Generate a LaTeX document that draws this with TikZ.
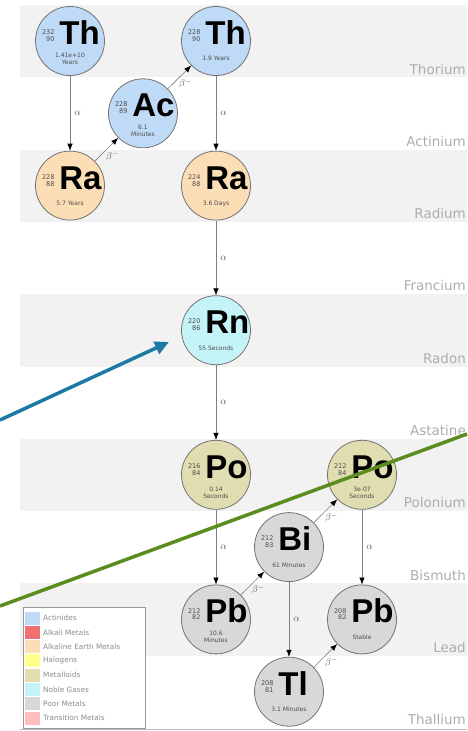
\documentclass[tikz,border=0pt]{standalone}
\usepackage{fontspec}
\setmainfont{DejaVu Sans}
\newfontfamily\elemfont{Liberation Sans}
\usetikzlibrary{positioning,arrows.meta}

\definecolor{actinide}{RGB}{190,218,246}
\definecolor{alkali}{RGB}{240,112,112}
\definecolor{alkearth}{RGB}{252,222,182}
\definecolor{halogen}{RGB}{255,255,140}
\definecolor{metalloid}{RGB}{224,222,176}
\definecolor{noble}{RGB}{196,244,247}
\definecolor{poor}{RGB}{216,216,216}
\definecolor{transition}{RGB}{255,190,190}
\definecolor{annblue}{RGB}{27,122,163}
\definecolor{anngreen}{RGB}{91,140,31}

% mass / atomic number stack, element symbol, half-life
\newcommand{\nucl}[4]{%
  \makebox[0pt][l]{\hspace{-28pt}\raisebox{-3.5pt}[0pt][0pt]{%
    \raisebox{3pt}{\fontsize{6.5}{6.8}\selectfont\color{black!70}\begin{tabular}[b]{@{}r@{}}#1\\#2\end{tabular}}%
    \hspace{5pt}{\elemfont\bfseries\fontsize{33}{33}\selectfont #3}}}%
  \makebox[0pt][c]{\raisebox{-20pt}[0pt][0pt]{\fontsize{6}{7}\selectfont\color{black!70}\begin{tabular}[c]{@{}c@{}}#4\end{tabular}}}}

\begin{document}
\begin{tikzpicture}[x=1pt, y=1pt, node distance=72.3pt and 73pt,
  >={Latex[length=7pt,width=5.5pt,color=black]},
  nuc/.style={circle, draw=black!55, line width=0.8pt, minimum size=69pt, inner sep=0pt, on grid},
  decay/.style={->, draw=black!50, line width=0.6pt},
  declab/.style={font=\fontsize{10}{10}\selectfont, text=black!65, inner sep=1pt},
  rowlabel/.style={anchor=base east, inner sep=0pt, text=black!32, font=\fontsize{13.5}{13.5}\selectfont},
  legtext/.style={anchor=west, inner sep=0pt, text=black!45, font=\fontsize{7.3}{7.3}\selectfont}]
\useasboundingbox (0,0) rectangle (467,-731);

% element rows
\foreach \elname [count=\k from 0] in {Thorium,Actinium,Radium,Francium,Radon,Astatine,Polonium,Bismuth,Lead,Thallium} {
  \ifodd\k\else\fill[black!5] (20,{-5-72.3*\k}) rectangle (467,{-77.3-72.3*\k});\fi
  \node[rowlabel] (row\k) at (466,{-74-72.3*\k}) {\elname};
}
\draw[black!25, line width=0.6pt] (20,-729) -- (467,-729);

% chain
\node[nuc, fill=actinide] (th232) at (70,-41) {\nucl{232}{90}{Th}{1.41e+10\\Years}};
\node[nuc, fill=actinide, below right=of th232] (ac228) {\nucl{228}{89}{Ac}{6.1\\Minutes}};
\node[nuc, fill=actinide, above right=of ac228] (th228) {\nucl{228}{90}{Th}{1.9 Years}};
\node[nuc, fill=alkearth, below=144.6pt of th232] (ra228) {\nucl{228}{88}{Ra}{5.7 Years}};
\node[nuc, fill=alkearth, below=144.6pt of th228] (ra224) {\nucl{224}{88}{Ra}{3.6 Days}};
\node[nuc, fill=noble, below=144.6pt of ra224] (rn220) {\nucl{220}{86}{Rn}{55 Seconds}};
\node[nuc, fill=metalloid, below=144.6pt of rn220] (po216) {\nucl{216}{84}{Po}{0.14\\Seconds}};
\node[nuc, fill=poor, below right=of po216] (bi212) {\nucl{212}{83}{Bi}{61 Minutes}};
\node[nuc, fill=metalloid, above right=of bi212] (po212) {\nucl{212}{84}{Po}{3e-07\\Seconds}};
\node[nuc, fill=poor, below left=of bi212] (pb212) {\nucl{212}{82}{Pb}{10.6\\Minutes}};
\node[nuc, fill=poor, below right=of bi212] (pb208) {\nucl{208}{82}{Pb}{Stable}};
\node[nuc, fill=poor, below right=of pb212] (tl208) {\nucl{208}{81}{Tl}{3.1 Minutes}};

\draw[decay] (th232) -- node[declab, right=3pt] (a1) {$\alpha$} (ra228);
\draw[decay] (ra228) -- node[declab, pos=0.45, below right=-1pt] (b1) {$\beta^-$} (ac228);
\draw[decay] (ac228) -- node[declab, pos=0.45, below right=-1pt] (b2) {$\beta^-$} (th228);
\draw[decay] (th228) -- node[declab, right=3pt] (a2) {$\alpha$} (ra224);
\draw[decay] (ra224) -- node[declab, right=3pt] (a3) {$\alpha$} (rn220);
\draw[decay] (rn220) -- node[declab, right=3pt] (a4) {$\alpha$} (po216);
\draw[decay] (po216) -- node[declab, right=3pt] (a5) {$\alpha$} (pb212);
\draw[decay] (pb212) -- node[declab, pos=0.45, below right=-1pt] (b3) {$\beta^-$} (bi212);
\draw[decay] (bi212) -- node[declab, pos=0.45, below right=-1pt] (b4) {$\beta^-$} (po212);
\draw[decay] (bi212) -- node[declab, right=3pt] (a6) {$\alpha$} (tl208);
\draw[decay] (po212) -- node[declab, right=3pt] (a7) {$\alpha$} (pb208);
\draw[decay] (tl208) -- node[declab, pos=0.45, below right=-1pt] (b5) {$\beta^-$} (pb208);

% legend
\node[draw=black!40, fill=white, line width=0.6pt, minimum width=122pt, minimum height=121pt, inner sep=0pt, anchor=north west] (legend) at (23,-607) {};
\foreach \col/\txt [count=\i from 0] in {actinide/Actinides, alkali/Alkali Metals, alkearth/Alkaline Earth Metals, halogen/Halogens, metalloid/Metalloids, noble/Noble Gases, poor/Poor Metals, transition/Transition Metals} {
  \fill[\col] (25,{-611.5-14.3*\i}) rectangle (40,{-624.5-14.3*\i});
  \node[legtext] (leg\i) at (43,{-618-14.3*\i}) {\txt};
}

% pointers
\coordinate (bluetail) at (0,-420);
\coordinate (bluetip) at (169,-342);
\draw[annblue, line width=3.5pt, -{Triangle[length=14pt,width=13pt]}] (bluetail) -- (bluetip);
\coordinate (greenstart) at (0,-606);
\coordinate (greenend) at (467,-434);
\draw[anngreen, line width=3.5pt] (greenstart) -- (greenend);
\end{tikzpicture}
\end{document}
